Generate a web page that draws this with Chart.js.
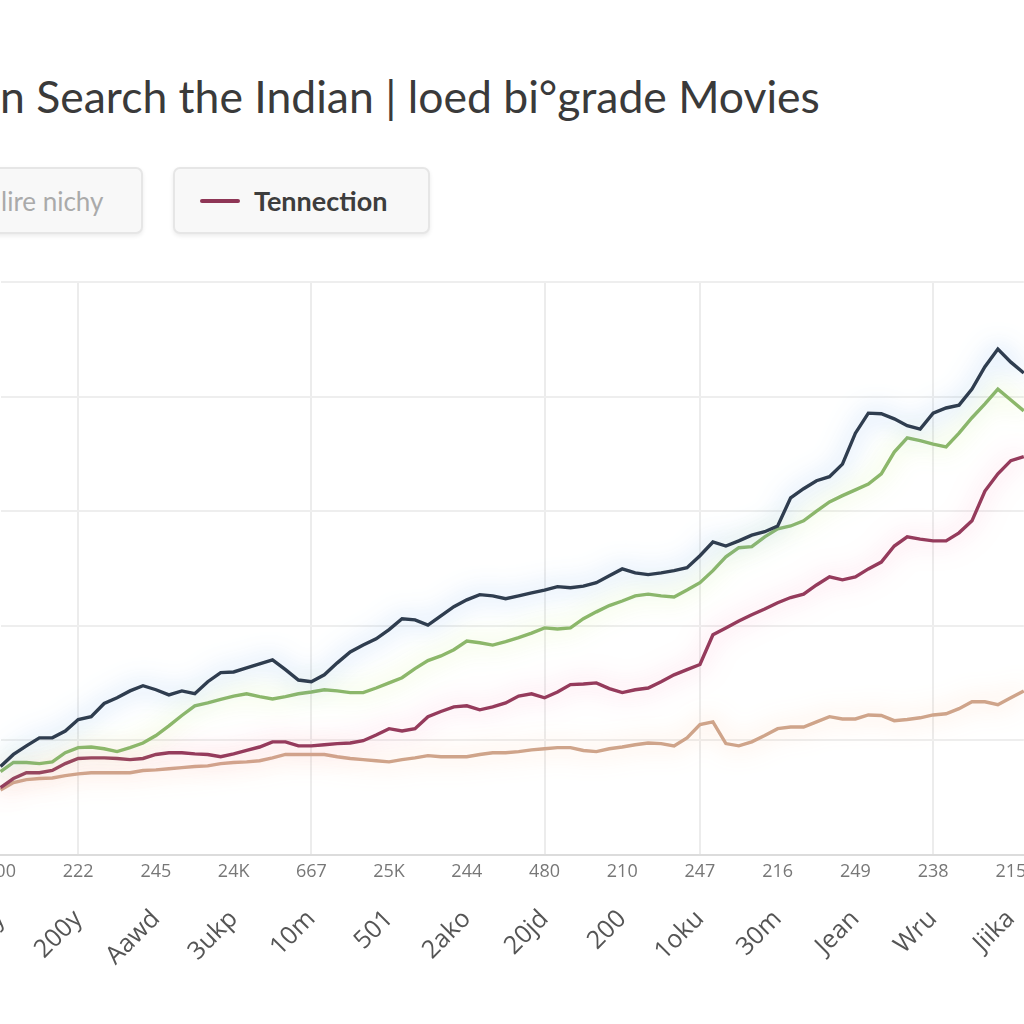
<!DOCTYPE html>
<html>
<head>
<meta charset="utf-8">
<script src="https://cdn.jsdelivr.net/npm/chart.js@4/dist/chart.umd.min.js"></script>
<style>
    html, body { margin: 0; padding: 0; background: #fff; }
    body { width: 1024px; height: 1024px; overflow: hidden; position: relative; font-family: 'Lato', 'Open Sans', sans-serif; }
    .titulo { position: absolute; left: 0; top: 69px; white-space: nowrap; font-size: 44.5px; color: #3a3a3a; }
    .legenda-item { position: absolute; top: 167px; height: 67px; box-sizing: border-box; border: 2px solid #e6e6e6; border-radius: 7px; background: #f8f8f8; box-shadow: 0 2px 4px rgba(0,0,0,0.08); display: flex; align-items: center; font-size: 26px; }
    .legenda-item .traco { width: 40px; height: 4px; border-radius: 2px; margin-right: 14px; }
    #wrap { position: absolute; left: 0; top: 0; }
</style>
</head>
<body>
<div class="titulo">n Search the Indian | loed bi°grade Movies</div>
<div id="legenda"></div>
<div id="wrap"><canvas id="grafico"></canvas></div>

<script>
// ========================= DADOS =========================
const numLabels = ['200', '222', '245', '24K', '667', '25K', '244', '480', '210', '247', '216', '249', '238', '215'];
const nameLabels = ['Day', '200y', 'Aawd', '3ukp', '10m', '501', '2ako', '20jd', '200', '1oku', '30m', 'Jean', 'Wru', 'Jiika'];

const serieAzul = [15.4, 17.5, 19.0, 20.4, 20.4, 21.6, 23.6, 24.1, 26.4, 27.4, 28.6, 29.5, 28.8, 27.9, 28.6, 28.1, 30.2, 31.8, 31.9, 32.6,
    33.3, 34.0, 32.3, 30.5, 30.2, 31.4, 33.5, 35.4, 36.6, 37.7, 39.3, 41.2, 41.0, 40.1, 41.7, 43.3, 44.5, 45.4, 45.2, 44.7,
    45.2, 45.7, 46.2, 46.8, 46.6, 46.9, 47.5, 48.7, 49.9, 49.2, 48.9, 49.2, 49.6, 50.1, 52.2, 54.6, 53.9, 54.8, 55.8, 56.4,
    57.4, 62.3, 63.9, 65.3, 66.0, 68.2, 73.6, 77.1, 77.0, 76.1, 74.9, 74.3, 77.1, 78.0, 78.5, 81.3, 85.2, 88.3, 86.0, 84.1];
const serieVerde = [14.5, 16.1, 16.1, 15.9, 16.2, 17.8, 18.7, 18.8, 18.5, 18.0, 18.7, 19.5, 20.8, 22.5, 24.3, 26.0, 26.5, 27.1, 27.7, 28.1,
    27.6, 27.2, 27.6, 28.1, 28.4, 28.8, 28.6, 28.3, 28.3, 29.1, 30.0, 30.9, 32.5, 33.9, 34.7, 35.8, 37.3, 37.0, 36.6, 37.2,
    37.9, 38.7, 39.6, 39.4, 39.6, 41.2, 42.4, 43.5, 44.3, 45.2, 45.5, 45.2, 45.0, 46.2, 47.5, 49.6, 52.0, 53.6, 53.8, 55.5,
    56.9, 57.4, 58.3, 60.0, 61.6, 62.7, 63.7, 64.7, 66.5, 70.3, 72.8, 72.3, 71.7, 71.2, 73.6, 76.3, 78.7, 81.3, 79.4, 77.5];
const serieVinho = [11.7, 13.3, 14.3, 14.3, 14.7, 15.9, 16.8, 16.9, 16.9, 16.8, 16.6, 16.8, 17.5, 17.8, 17.8, 17.6, 17.5, 17.1, 17.6, 18.2,
    18.8, 19.7, 19.7, 19.0, 19.0, 19.2, 19.4, 19.5, 19.9, 20.9, 22.0, 21.6, 22.0, 24.1, 25.0, 25.8, 26.0, 25.3, 25.8, 26.5,
    27.7, 28.1, 27.4, 28.4, 29.7, 29.8, 30.0, 29.0, 28.3, 28.8, 29.1, 30.2, 31.4, 32.3, 33.2, 38.4, 39.6, 40.8, 41.9, 42.9,
    44.0, 44.9, 45.5, 47.1, 48.5, 48.0, 48.5, 49.9, 51.1, 53.9, 55.5, 55.1, 54.8, 54.8, 56.2, 58.3, 63.5, 66.5, 68.8, 69.5];
const serieAreia = [11.3, 12.6, 13.1, 13.3, 13.4, 13.8, 14.1, 14.3, 14.3, 14.3, 14.3, 14.7, 14.8, 15.0, 15.2, 15.4, 15.5, 15.9, 16.1, 16.2,
    16.4, 16.9, 17.5, 17.5, 17.5, 17.5, 17.1, 16.8, 16.6, 16.4, 16.2, 16.6, 16.9, 17.3, 17.1, 17.1, 17.1, 17.5, 17.8, 17.8,
    18.0, 18.3, 18.5, 18.7, 18.7, 18.2, 18.0, 18.5, 18.8, 19.2, 19.5, 19.4, 19.0, 20.4, 22.7, 23.2, 19.4, 19.0, 19.7, 20.8,
    22.0, 22.3, 22.3, 23.2, 24.1, 23.7, 23.7, 24.4, 24.3, 23.4, 23.6, 23.9, 24.4, 24.6, 25.5, 26.7, 26.7, 26.2, 27.4, 28.6];

// um rótulo a cada 6 pontos
const PASSO = 6;
const categorias = serieAzul.map((_, i) => i % PASSO === 0 ? numLabels[i / PASSO] : '');
const linhasVerticais = [6, 24, 42, 54, 72];

const legendaItens = [
    { texto: 'lire nichy', cor: null, left: -20, width: 163 },
    { texto: 'Tennection', cor: '#8e3656', left: 173, width: 257 }
];

// ========================= LEGENDA =========================
function montarLegenda() {
    const el = document.getElementById('legenda');
    legendaItens.forEach(item => {
        const div = document.createElement('div');
        div.className = 'legenda-item';
        div.style.left = item.left + 'px';
        div.style.width = item.width + 'px';
        if (item.cor) {
            div.style.paddingLeft = '25px';
            div.innerHTML = `<span class="traco" style="background:${item.cor}"></span><b style="color:#3d3d3d;font-size:27px">${item.texto}</b>`;
        } else {
            div.style.paddingLeft = '19px';
            div.innerHTML = `<span style="color:#aaa">${item.texto}</span>`;
        }
        el.appendChild(div);
    });
}

// ========================= BRILHO DAS LINHAS =========================
const brilho = {
    id: 'brilho',
    beforeDatasetDraw(chart, args) {
        const ds = chart.data.datasets[args.index];
        chart.ctx.save();
        chart.ctx.shadowColor = ds.glow;
        chart.ctx.shadowBlur = 24;
    },
    afterDatasetDraw(chart) {
        chart.ctx.restore();
    }
};

function serie(label, data, cor, glow) {
    return {
        label: label,
        data: data,
        borderColor: cor,
        glow: glow,
        borderWidth: 3.4,
        pointRadius: 0,
        tension: 0,
        fill: false
    };
}

function config() {
    return {
        type: 'line',
        data: {
            labels: categorias,
            datasets: [
                serie('Azul', serieAzul, '#2f3d4f', 'rgba(100,165,235,0.8)'),
                serie('Verde', serieVerde, '#8cb76a', 'rgba(205,240,130,0.8)'),
                serie('Tennection', serieVinho, '#953b5c', 'rgba(250,140,180,0.7)'),
                serie('Areia', serieAreia, '#cfa48a', 'rgba(255,185,140,0.7)')
            ]
        },
        options: {
            responsive: false,
            animation: false,
            layout: { padding: { top: 4, right: 0, left: 0, bottom: 0 } },
            plugins: {
                legend: { display: false },
                tooltip: { enabled: false }
            },
            scales: {
                x: {
                    position: 'bottom',
                    offset: false,
                    grid: {
                        drawTicks: false,
                        lineWidth: 2,
                        color: ctx => linhasVerticais.includes(ctx.index) ? '#ececec' : 'rgba(0,0,0,0)'
                    },
                    border: { color: '#dcdcdc', width: 2 },
                    ticks: {
                        autoSkip: false,
                        maxRotation: 0,
                        minRotation: 0,
                        padding: 6,
                        color: '#777',
                        font: { family: 'Open Sans', size: 18 }
                    }
                },
                x2: {
                    type: 'category',
                    position: 'bottom',
                    offset: false,
                    labels: categorias.map((_, i) => i % PASSO === 0 ? nameLabels[i / PASSO] : ''),
                    grid: { display: false, drawTicks: false },
                    border: { display: false },
                    ticks: {
                        autoSkip: false,
                        maxRotation: 45,
                        minRotation: 45,
                        padding: 16,
                        color: '#555',
                        font: { family: 'Open Sans', size: 25 }
                    }
                },
                y: {
                    min: 0,
                    max: 100,
                    ticks: { display: false, stepSize: 20 },
                    grid: { drawTicks: false, lineWidth: 2, color: '#eeeeee' },
                    border: { display: false }
                }
            }
        },
        plugins: [brilho]
    };
}

// ========================= GRÁFICO =========================
const LARGURA_PLOT = 1023;
const ALTURA_PLOT = 573;
const TOPO_PLOT = 282;

function inicializarGrafico() {
    const canvas = document.getElementById('grafico');
    canvas.width = 1200; canvas.height = 800;
    let chart = new Chart(canvas, config());
    const a = chart.chartArea;
    const w = Math.round(LARGURA_PLOT + a.left + (1200 - a.right));
    const h = Math.round(ALTURA_PLOT + a.top + (800 - a.bottom));
    chart.destroy();
    canvas.width = w; canvas.height = h;
    canvas.style.width = w + 'px'; canvas.style.height = h + 'px';
    chart = new Chart(canvas, config());
    const wrap = document.getElementById('wrap');
    wrap.style.left = (-chart.chartArea.left) + 'px';
    wrap.style.top = (TOPO_PLOT - chart.chartArea.top) + 'px';
}

montarLegenda();
inicializarGrafico();
</script>
</body>
</html>
